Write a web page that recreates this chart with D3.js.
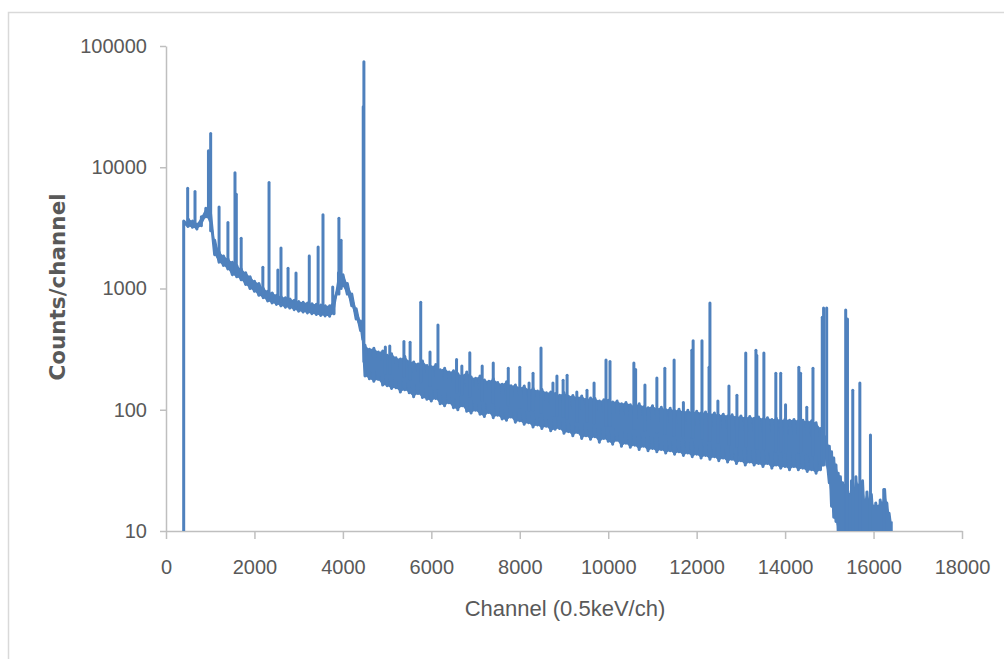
<!DOCTYPE html>
<html>
<head>
<meta charset="utf-8">
<script src="https://cdn.jsdelivr.net/npm/d3@7"></script>
<style>
    body { margin: 0; background: #ffffff; }
    svg { display: block; }
</style>
</head>
<body>
<div id="plot"></div>
<script>
// Spectrum as [channel, min counts, max counts] per bin.
var lowChannels = [
    [400, 10, 3600], [500, 3250, 3750], [600, 3200, 3600], [700, 3100, 3400],
    [800, 3300, 3900], [900, 3900, 4600], [1000, 3600, 4400], [1100, 1900, 2500],
    [1200, 1650, 2000], [1300, 1550, 1850], [1400, 1450, 1750], [1500, 1300, 1650],
    [1600, 1250, 1550], [1700, 1180, 1450], [1800, 1080, 1350], [1900, 1000, 1250],
    [2000, 950, 1150], [2100, 880, 1100], [2200, 840, 1000], [2300, 790, 950],
    [2400, 760, 920], [2500, 740, 880], [2600, 720, 860], [2700, 700, 840],
    [2800, 690, 820], [2900, 670, 800], [3000, 650, 780], [3100, 640, 770],
    [3200, 630, 760], [3300, 620, 750], [3400, 610, 740], [3500, 600, 730],
    [3600, 595, 720], [3700, 590, 720], [3800, 620, 800], [3900, 1000, 1350],
    [4000, 1050, 1300], [4100, 900, 1100], [4200, 720, 900], [4300, 560, 680],
    [4400, 450, 540], [4450, 380, 460]
];

var midChannels = [
    [4500, 190, 340], [4600, 180, 315], [4700, 172, 322], [4800, 178, 300],
    [4900, 160, 305], [5000, 158, 282], [5100, 150, 290], [5200, 152, 268],
    [5300, 140, 262], [5400, 146, 275], [5500, 138, 250], [5600, 128, 248],
    [5700, 136, 238], [5800, 126, 252], [5900, 122, 232], [6000, 118, 226],
    [6100, 124, 236], [6200, 112, 214], [6300, 108, 220], [6400, 114, 205],
    [6500, 104, 210], [6600, 100, 198], [6700, 108, 192], [6800, 97, 205],
    [6900, 94, 186], [7000, 99, 182], [7100, 92, 190], [7200, 88, 176],
    [7300, 95, 172], [7400, 86, 180], [7500, 90, 168], [7600, 84, 162],
    [7700, 82, 170], [7800, 87, 158], [7900, 79, 160], [8000, 81, 152],
    [8100, 76, 157], [8200, 78, 146], [8300, 72, 150], [8400, 75, 143],
    [8500, 70, 147], [8600, 73, 138], [8700, 67, 140], [8800, 69, 136],
    [8900, 70, 132], [9000, 64, 138], [9100, 66, 129], [9200, 61, 131],
    [9300, 65, 126], [9400, 58, 130], [9500, 61, 122], [9600, 57, 125],
    [9700, 60, 124], [9800, 54, 118], [9900, 58, 121]
];

var highChannels = [
    [10000, 55, 120], [10100, 52, 116], [10200, 56, 118], [10300, 50, 112],
    [10400, 53, 115], [10500, 49, 110], [10600, 51, 108], [10700, 47, 112],
    [10800, 50, 106], [10900, 46, 104], [11000, 48, 108], [11100, 45, 102],
    [11200, 47, 105], [11300, 44, 100], [11400, 46, 103], [11500, 43, 98],
    [11600, 45, 101], [11700, 42, 96], [11800, 44, 99], [11900, 41, 95],
    [12000, 43, 97], [12100, 40, 94], [12200, 42, 96], [12300, 39, 92],
    [12400, 41, 94], [12500, 38, 90], [12600, 40, 92], [12700, 37, 89],
    [12800, 39, 91], [12900, 36, 87], [13000, 38, 89], [13100, 35, 86],
    [13200, 37, 88], [13300, 35, 85], [13400, 36, 87], [13500, 34, 84],
    [13600, 36, 86], [13700, 33, 83], [13800, 35, 85], [13900, 33, 82],
    [14000, 34, 84], [14100, 32, 82], [14200, 34, 83], [14300, 32, 81],
    [14400, 33, 82], [14500, 31, 80], [14600, 32, 81], [14700, 30, 78],
    [14800, 32, 70], [14900, 40, 60], [15000, 25, 50], [15050, 16, 45],
    [15100, 13, 40], [15150, 12, 35], [15200, 10, 30], [15250, 10, 28]
];

var tailChannels = [
    [15300, 10, 25], [15400, 10, 24], [15450, 10, 20], [15500, 10, 26],
    [15550, 10, 22], [15600, 10, 28], [15650, 10, 24], [15700, 10, 20],
    [15750, 10, 26], [15800, 10, 18], [15850, 10, 21], [15900, 10, 18],
    [15950, 10, 20], [16000, 10, 16], [16050, 10, 17], [16100, 10, 16],
    [16150, 10, 18], [16200, 10, 17], [16250, 10, 22], [16300, 10, 17],
    [16350, 10, 14], [16400, 10, 12]
];

// Sharp lines as [channel, base counts, top counts].
var peaks = [
    [490, 3400, 6700], [656, 3300, 6300], [960, 4000, 13700], [1010, 3000, 19000],
    [1200, 1800, 4700], [1400, 1600, 3500], [1560, 1400, 9000], [1590, 1400, 6000],
    [1700, 1300, 2600], [2190, 900, 1500], [2330, 850, 7500], [2530, 800, 1420],
    [2600, 780, 2160], [2760, 750, 1470], [2940, 720, 1340], [3240, 680, 1850],
    [3440, 660, 2200], [3550, 650, 4050], [3770, 650, 1030], [3910, 900, 3800],
    [3960, 1000, 2500], [4460, 400, 31500], [4475, 250, 74000],
    [4960, 200, 330], [5060, 200, 335], [5380, 190, 365], [5520, 180, 360],
    [5760, 170, 770], [5970, 160, 300], [6150, 150, 500], [6570, 140, 260],
    [6690, 135, 230], [6870, 130, 295], [7150, 120, 230], [7400, 115, 243],
    [7740, 110, 220], [8000, 105, 224], [8210, 100, 166], [8300, 100, 200],
    [8480, 95, 323], [8750, 90, 166], [8840, 90, 190], [8980, 88, 175],
    [9070, 85, 193], [9290, 80, 140], [9520, 80, 145], [9680, 78, 166],
    [9950, 75, 257], [10040, 75, 250], [10580, 70, 243], [10620, 70, 215],
    [10830, 68, 160], [11100, 66, 183], [11280, 64, 220], [11490, 62, 257],
    [11700, 60, 115], [11890, 60, 310], [11920, 60, 370], [12120, 58, 370],
    [12280, 56, 224], [12300, 56, 760], [12480, 54, 118], [12730, 52, 157],
    [12910, 50, 132], [13110, 50, 294], [13340, 48, 310], [13360, 48, 280],
    [13520, 48, 294], [13790, 46, 200], [13900, 46, 200], [14010, 45, 110],
    [14310, 45, 224], [14350, 45, 200], [14490, 44, 105], [14630, 42, 220],
    [14840, 35, 580], [14870, 35, 690], [14940, 35, 690], [15370, 10, 665],
    [15410, 10, 560], [15530, 10, 145], [15690, 10, 166], [15930, 10, 62],
    [16230, 10, 22]
];

var xTicks = [0, 2000, 4000, 6000, 8000, 10000, 12000, 14000, 16000, 18000];
var yTicks = [10, 100, 1000, 10000, 100000];

var width = 1004, height = 659;
var plot = {left: 166, right: 962, top: 46, bottom: 531};
var blue = "#4f81bd", grey_text = "#595959", grey_axis = "#bfbfbf";

var svg = d3.select("div#plot")
    .append("svg")
        .attr("width", width)
        .attr("height", height)
        .attr("viewBox", "0 0 " + width + " " + height);

// Chart frame, running off the right and bottom of the picture.
svg.append("rect")
    .attr("x", 8.5)
    .attr("y", 12.5)
    .attr("width", 1100)
    .attr("height", 1000)
    .attr("fill", "#ffffff")
    .attr("stroke", "#d9d9d9")
    .attr("stroke-width", 1.5);

var x_scale = d3.scaleLinear()
    .domain([0, 18000])
    .range([plot.left, plot.right]);

var y_scale = d3.scaleLog()
    .domain([10, 100000])
    .range([plot.bottom, plot.top]);

// Axes.
var g_x_axis = svg.append("g")
    .attr("transform", "translate(0, " + plot.bottom + ")")
    .call(d3.axisBottom(x_scale)
        .tickValues(xTicks)
        .tickSize(8)
        .tickSizeOuter(0)
        .tickPadding(21)
        .tickFormat(d3.format("d")));

var g_y_axis = svg.append("g")
    .attr("transform", "translate(" + plot.left + ", 0)")
    .call(d3.axisLeft(y_scale)
        .tickValues(yTicks)
        .tickSize(6)
        .tickSizeOuter(0)
        .tickPadding(13)
        .tickFormat(d3.format("d")));

[g_x_axis, g_y_axis].forEach(function(g) {
    g.select(".domain").attr("stroke", grey_axis).attr("stroke-width", 1.5);
    g.selectAll(".tick line").attr("stroke", grey_axis).attr("stroke-width", 1.5);
    g.selectAll(".tick text")
        .attr("fill", grey_text)
        .style("font-family", "'Liberation Sans', Arial, sans-serif")
        .style("font-size", "20px");
});

// Axis titles.
svg.append("text")
    .attr("x", 565)
    .attr("y", 616)
    .attr("text-anchor", "middle")
    .attr("fill", grey_text)
    .style("font-family", "'Liberation Sans', Arial, sans-serif")
    .style("font-size", "22px")
    .text("Channel (0.5keV/ch)");

svg.append("text")
    .attr("transform", "translate(65, 287) rotate(-90)")
    .attr("text-anchor", "middle")
    .attr("fill", grey_text)
    .style("font-family", "'DejaVu Sans', sans-serif")
    .style("font-weight", "bold")
    .style("font-size", "21.5px")
    .text("Counts/channel");

// Data, clipped at the bottom axis.
svg.append("clipPath")
    .attr("id", "plot_clip")
    .append("rect")
        .attr("x", plot.left)
        .attr("y", 0)
        .attr("width", plot.right - plot.left)
        .attr("height", plot.bottom);

var g_data = svg.append("g").attr("clip-path", "url(#plot_clip)");

var bins = lowChannels.concat(midChannels, highChannels, tailChannels);

// The noise band between each bin's minimum and maximum.
var band = d3.area()
    .x(function(b) { return x_scale(b[0]); })
    .y0(function(b) { return y_scale(b[1]); })
    .y1(function(b) { return y_scale(b[2]); });

g_data.append("path")
    .datum(bins.slice(1))
    .attr("d", band)
    .attr("fill", blue);

var line = d3.line()
    .x(function(d) { return x_scale(d[0]); })
    .y(function(d) { return y_scale(d[1]); });

// Each bin goes from its minimum up to its maximum, then on to the next bin.
var trace = [];
bins.forEach(function(b) {
    trace.push([b[0], b[1]]);
    trace.push([b[0], b[2]]);
});

g_data.append("path")
    .datum(trace)
    .attr("d", line)
    .attr("fill", "none")
    .attr("stroke", blue)
    .attr("stroke-width", 3)
    .attr("stroke-linejoin", "round");

g_data.selectAll("path.peak")
    .data(peaks)
    .join("path")
        .attr("class", "peak")
        .attr("d", function(p) { return line([[p[0], p[1]], [p[0], p[2]]]); })
        .attr("fill", "none")
        .attr("stroke", blue)
        .attr("stroke-width", 3)
        .attr("stroke-linecap", "round");
</script>
</body>
</html>
